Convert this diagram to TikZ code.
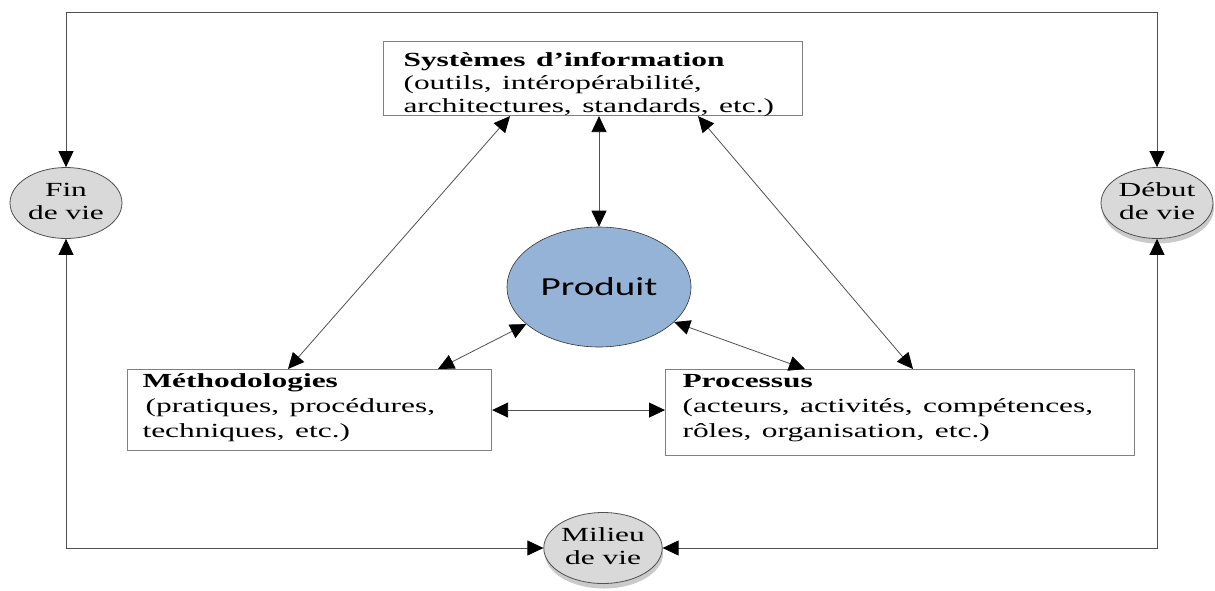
\documentclass[tikz,border=0pt]{standalone}
\usepackage{fontspec}
\setmainfont{Liberation Serif}
\newfontfamily\calibri{Carlito}
\usepackage{xcolor}
\usetikzlibrary{arrows.meta,shapes.geometric,shadows}

\definecolor{bleuprod}{HTML}{95B3D7}
\definecolor{grisvie}{HTML}{D9D9D9}
\definecolor{trait}{HTML}{505050}

% texte etire horizontalement comme dans la figure
\newcommand{\etire}[2][l]{\scalebox{1.57}[1]{\begin{tabular}[t]{@{}#1@{}}#2\end{tabular}}}

\begin{document}
\begin{tikzpicture}[x=1pt,y=-1pt,
	boite/.style={draw=gray,line width=1.1pt,rectangle,inner ysep=0pt,align=left,font=\fontsize{20}{25}\selectfont},
	vie/.style={ellipse,draw=trait,fill=grisvie,line width=0.8pt,minimum width=112pt,minimum height=71pt,inner sep=0pt,font=\fontsize{20}{23}\selectfont},
	ombre/.style={drop shadow={shadow xshift=1pt,shadow yshift=-5pt,fill=gray!70,opacity=0.6}},
	lien/.style={draw=trait,line width=0.8pt,{Triangle[length=16pt,width=15pt,color=black]}-{Triangle[length=16pt,width=15pt,color=black]}}]
	\useasboundingbox (0,0) rectangle (1215,590);
	\coordinate (haut) at (600,12.5);

	% les trois boites
	\node (si) [boite,anchor=north west,inner xsep=20pt,text width=379pt,text height=25pt,text depth=49pt,font=\fontsize{20}{23}\selectfont] at (383,41)
		{\etire{\textbf{Systèmes d’information}\\(outils, intéropérabilité,\\architectures, standards, etc.)}};
	\node (meth) [boite,anchor=north west,inner xsep=15pt,text width=334pt,text height=18pt,text depth=63pt] at (127,369)
		{\etire{\textbf{Méthodologies}\\\hspace{2pt}(pratiques, procédures,\\techniques, etc.)}};
	\node (proc) [boite,anchor=north west,inner xsep=17pt,text width=435pt,text height=18pt,text depth=68pt] at (665,369)
		{\etire{\textbf{Processus}\\(acteurs, activités, compétences,\\rôles, organisation, etc.)}};

	% le produit
	\node (prod) [ellipse,draw=black!80,fill=bleuprod,line width=0.6pt,minimum width=184pt,minimum height=120pt,inner sep=0pt] at (599,287)
		{\scalebox{1.5}[1]{\calibri\fontsize{26}{30}\selectfont Produit}};

	% cycle de vie
	\node (fin) [vie] at (66,203) {\etire[c]{Fin\\de vie}};
	\node (debut) [vie,ombre] at (1157,203) {\etire[c]{Début\\de vie}};
	\node (milieu) [vie,ombre,minimum width=113pt] at (603,548) {\etire[c]{Milieu\\de vie}};

	% liaisons
	\draw[lien] ([xshift=127pt]si.south west) -- ([xshift=161pt]meth.north west);
	\draw[lien] (prod.north |- si.south) -- (prod.north);
	\draw[lien] ([xshift=315pt]si.south west) -- ([xshift=248pt]proc.north west);
	\draw[lien] ([xshift=311pt]meth.north west) -- (prod.207);
	\draw[lien] (prod.335) -- ([xshift=140pt]proc.north west);
	\draw[lien] (meth.east) -- (meth.east -| proc.west);

	\draw[lien] (fin.north) -- (fin.north |- haut) -- (debut.north |- haut) -- (debut.north);
	\draw[lien] (fin.south) |- (milieu.west);
	\draw[lien] (debut.south) |- (milieu.east);
\end{tikzpicture}
\end{document}
